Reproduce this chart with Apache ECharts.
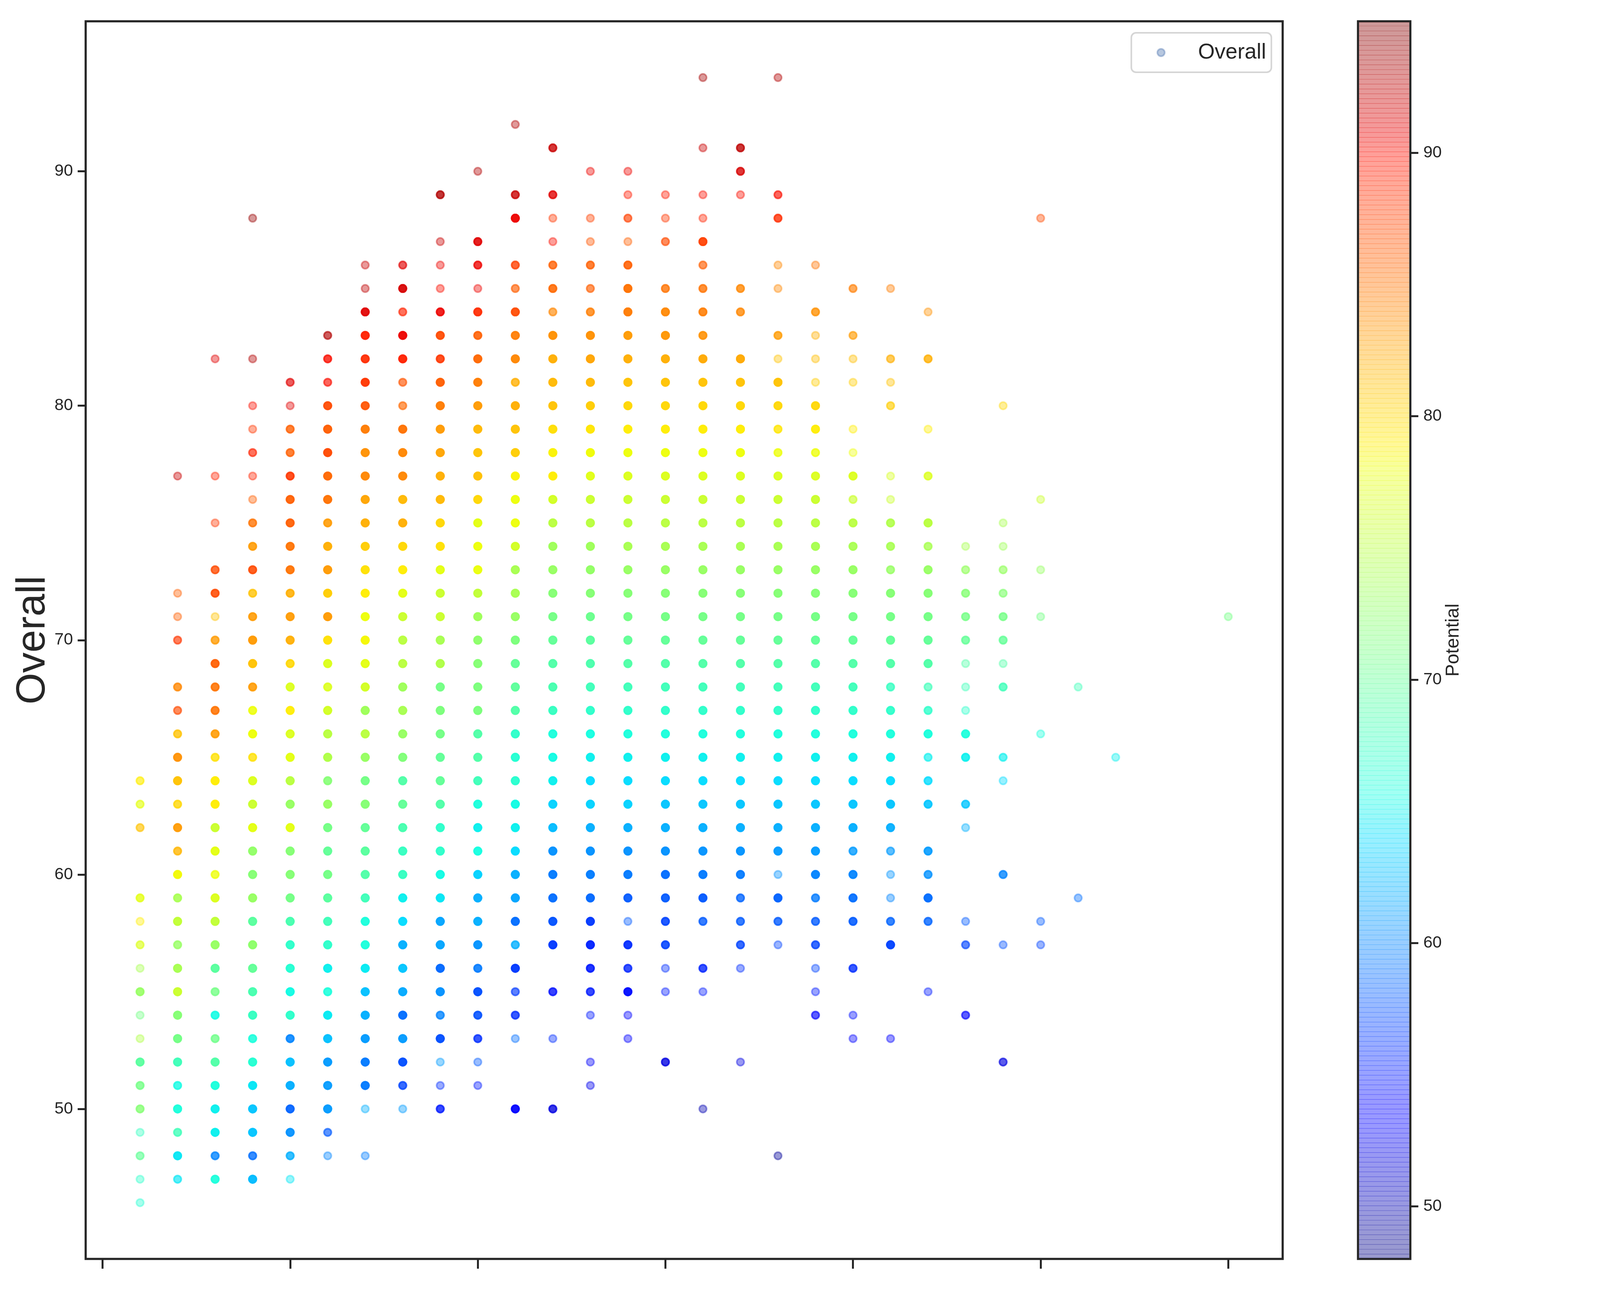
<!DOCTYPE html>
<html><head><meta charset="utf-8">
<style>html,body{margin:0;padding:0;background:#fff;overflow:hidden;width:100%;height:100%}#c{position:absolute;left:0;top:0;width:100vw;height:100vh}</style>
<script src="https://cdn.jsdelivr.net/npm/echarts@6/dist/echarts.min.js"></script>
</head><body><div id="c"></div>
<script>
const age16=[[64,79,2],[63,77.5,2],[62,81,2],[59,77.5,3],[58,79,1],[57,77,2],[56,74,1],[55,73,4],[54,71,1],[53,74.5,1],[52,69.5,5],[51,71,3],[50,72,3],[49,67.5,1],[48,70,2],[47,67,1],[46,66.5,1]];
const age17=[[77,92,1],[72,86,1],[71,86,1],[70,88,2],[68,84,3],[67,87,2],[66,81,3],[65,83.5,5],[64,81,6],[63,80,3],[62,83,5],[61,81.7,3],[60,78.3,6],[59,74,4],[58,75.5,6],[57,73,3],[56,74,6],[55,76,6],[54,72,6],[53,71,6],[52,68,6],[51,65.5,3],[50,66,6],[49,68,3],[48,64.5,5],[47,64.5,2]];
const age18=[[82,91,1],[77,89,1],[75,88,1],[73,87,3],[72,87,4],[71,81,1],[70,83,3],[69,86,5],[68,85,4],[67,85,4],[66,83,4],[65,79.5,3],[64,79,6],[63,79,6],[62,76,6],[61,77.5,6],[60,78,3],[59,77,6],[58,75.5,6],[57,73,6],[56,69.5,6],[55,71,3],[54,65.5,4],[53,70.7,3],[52,69,6],[51,66,6],[50,65,6],[49,65,6],[48,60,3],[47,66,5]];
const age19=[[88,94,1],[82,93,1],[80,90,1],[79,88,1],[78,89,2],[77,89,1],[76,86,1],[75,85,3],[74,83,4],[73,87,4],[72,81,3],[71,83,4],[70,83,6],[69,81,6],[68,83,4],[67,78,4],[66,78,6],[65,79.5,3],[64,77,6],[63,76,6],[62,77.5,6],[61,72.7,6],[60,72,6],[59,73,6],[58,69.5,6],[57,72.5,6],[56,70,6],[55,68.5,6],[54,67.5,6],[53,66,4],[52,66.5,6],[51,64.5,6],[50,63,6],[49,63,6],[48,59,3],[47,62.5,6]];
const age20=[[81,91,2],[80,91,1],[79,86,3],[78,86,3],[77,88,4],[76,86,5],[75,86,5],[74,85,5],[73,85,5],[72,82,4],[71,83,5],[70,82,5],[69,80,4],[68,77,5],[67,79,5],[66,77,5],[65,77.5,6],[64,75,6],[63,73,6],[62,77.5,6],[61,72,6],[60,72,6],[59,71,6],[58,68.5,6],[57,67,6],[56,66.5,6],[55,65.5,6],[54,67,6],[53,60,4],[52,62.7,6],[51,62,6],[50,58.5,5],[49,60.5,5],[48,62,3],[47,64.5,1]];
const age21=[[83,93,2],[82,90,3],[81,90,2],[80,87,5],[79,86,6],[78,87,6],[77,85.5,6],[76,85,6],[75,83,4],[74,82,6],[73,83,6],[72,80.5,6],[71,83,6],[70,79.5,6],[69,77,6],[68,77,4],[67,76.5,6],[66,75,6],[65,74.5,6],[64,72,4],[63,73,6],[62,71,6],[61,70,6],[60,71,6],[59,69.5,6],[58,68,6],[57,67,6],[56,65,6],[55,66,4],[54,64.7,6],[53,62.7,6],[52,61,6],[51,61,5],[50,61,6],[49,58,2],[48,60,1]];
const age22=[[86,92,1],[85,92.5,1],[84,91,5],[83,89,6],[82,88.5,5],[81,88,6],[80,86.5,5],[79,84.5,6],[78,83.5,6],[77,84,6],[76,82.5,6],[75,82,6],[74,80.5,6],[73,79.5,6],[72,79,6],[71,78,6],[70,78.5,6],[69,77.5,6],[68,76.5,6],[67,73.5,6],[66,75,6],[65,73,6],[64,71,6],[63,72,6],[62,70,6],[61,69.5,6],[60,69,6],[59,68,6],[58,66,6],[57,66,6],[56,64.7,6],[55,62.7,6],[54,62,6],[53,61,6],[52,59.5,6],[51,59.5,6],[50,62,1],[48,59.7,1]];
const age23=[[86,91,2],[85,91.5,5],[84,89,2],[83,90.5,6],[82,89,6],[81,86.5,2],[80,85.5,2],[79,85,6],[78,84,6],[77,84,6],[76,81.5,6],[75,82,6],[74,80,6],[73,79,6],[72,77.5,6],[71,76,6],[70,75,6],[69,75,6],[68,73.5,6],[67,74,6],[66,73,6],[65,71.7,6],[64,69,6],[63,70,6],[62,68.5,6],[61,67.5,6],[60,67.5,6],[59,65,6],[58,64,6],[57,62,6],[56,63,6],[55,61.7,6],[54,59,6],[53,61,6],[52,57.5,6],[51,57,3],[50,61,1]];
const age24=[[89,93,3],[87,92,1],[86,90.5,1],[85,90,1],[84,90.5,4],[83,87,5],[82,88,4],[81,86,6],[80,84.5,6],[79,83,6],[78,82.5,6],[77,82,6],[76,81.5,6],[75,80,6],[74,79.5,6],[73,77.5,6],[72,76,6],[71,76,6],[70,74,6],[69,74.5,6],[68,71,6],[67,71.5,6],[66,71,6],[65,70,6],[64,70,6],[63,69,6],[62,67,6],[61,67,6],[60,65.5,6],[59,64.5,6],[58,61.5,6],[57,61.5,6],[56,58.7,6],[55,60.5,6],[54,60,3],[53,57.5,6],[52,61,1],[51,56,1],[50,55,3]];
const age25=[[90,93,1],[87,91,4],[86,90.5,3],[85,90.5,1],[84,88.5,5],[83,86,4],[82,85.5,6],[81,84.5,6],[80,83,6],[79,81.5,6],[78,81,6],[77,81.2,6],[76,80,6],[75,77.5,6],[74,78,6],[73,77.8,6],[72,75.5,6],[71,73.5,6],[70,72.5,6],[69,72,6],[68,71.5,6],[67,71.5,6],[66,69,6],[65,69,6],[64,68,6],[63,66,6],[62,65,6],[61,65.7,6],[60,63.5,6],[59,62,6],[58,62,6],[57,60.7,6],[56,59.5,4],[55,57.5,6],[54,57.5,4],[53,56,3],[52,58,1],[51,55,1]];
const age26=[[92,93,1],[89,92,3],[88,90.5,6],[86,87.5,3],[85,86,2],[84,87,5],[83,84.5,5],[82,84,6],[81,82,3],[80,82,6],[79,81,6],[78,80.5,6],[77,78.7,6],[76,78,6],[75,78,6],[74,76.5,6],[73,74,6],[72,74,6],[71,73,6],[70,71.5,6],[69,70,6],[68,69.7,6],[67,69,6],[66,67,6],[65,66.5,6],[64,66.7,6],[63,65.5,6],[62,65,6],[61,64,6],[60,62,6],[59,61.5,6],[58,59,6],[57,62,3],[56,56.5,6],[55,56.5,2],[54,56,3],[53,59,1],[50,53.5,5]];
const age27=[[91,92,3],[89,91,3],[88,88,1],[87,90,1],[86,86,3],[85,85.5,4],[84,84,2],[83,83.5,6],[82,82,6],[81,81.5,6],[80,81,6],[79,79.7,6],[78,78.7,6],[77,79,6],[76,76.5,6],[75,75,6],[74,73.5,6],[73,73,6],[72,72,6],[71,71,6],[70,70,6],[69,69,6],[68,68.5,6],[67,67.5,6],[66,66,6],[65,65.5,6],[64,65,6],[63,63.5,6],[62,62.5,6],[61,60.5,6],[60,59.5,6],[59,59,6],[58,57.7,6],[57,56.5,6],[55,54.5,3],[53,56,1],[50,52,3]];
const age28=[[90,90.5,1],[88,87.5,1],[87,86.5,1],[86,86,3],[85,86,2],[84,84.5,3],[83,83.5,6],[82,82.5,6],[81,81.5,6],[80,80.5,6],[79,79.3,6],[78,78.2,6],[77,77.3,6],[76,76,6],[75,75,6],[74,73.5,6],[73,72.8,6],[72,72,6],[71,70.5,6],[70,69.5,6],[69,68.7,6],[68,68,6],[67,67,6],[66,65.7,6],[65,65,6],[64,64,6],[63,63.5,6],[62,62,6],[61,60.5,6],[60,59.7,6],[59,58.7,6],[58,56.5,6],[57,55.5,6],[56,55,4],[55,55,3],[54,55,1],[52,53,1],[51,52.5,1]];
const age29=[[90,90.5,1],[89,89.5,1],[88,87.5,2],[87,86,1],[86,86,4],[85,85,6],[84,84.5,6],[83,83,6],[82,82,6],[81,81,6],[80,80,6],[79,79,6],[78,78,6],[77,77,6],[76,76,6],[75,75,6],[74,74,6],[73,73,6],[72,72,6],[71,71,6],[70,70,6],[69,69,6],[68,68,6],[67,67,6],[66,66,6],[65,65,6],[64,64,6],[63,63.5,6],[62,62,6],[61,60.5,6],[60,59.5,6],[59,58,5],[58,58,1],[57,56,5],[56,55.5,3],[55,54.5,6],[54,54,1],[53,53.5,1]];
const age30=[[89,89.5,1],[88,88,1],[87,87,2],[85,85,3],[84,84,5],[83,83.3,6],[82,82,6],[81,81,6],[80,80,6],[79,79,6],[78,78,6],[77,77,6],[76,76,6],[75,75,6],[74,74,6],[73,73,6],[72,72,6],[71,71,6],[70,70,6],[69,69,6],[68,68,6],[67,67,6],[66,66,6],[65,65,6],[64,64,6],[63,63,6],[62,62,6],[61,60.5,6],[60,59,6],[59,58,5],[58,57,4],[57,57,4],[56,56,1],[55,55,1],[52,52,3]];
const age31=[[94,93.5,1],[91,92,1],[89,90,1],[88,89,1],[87,87.5,5],[86,86,2],[85,85,3],[84,84.5,4],[83,83.5,4],[82,82.3,6],[81,81,6],[80,80,6],[79,79,6],[78,78,6],[77,77,6],[76,76,6],[75,75,6],[74,74,6],[73,73,6],[72,72,6],[71,71,6],[70,70,6],[69,69,6],[68,68,6],[67,67,6],[66,66,6],[65,65,6],[64,64,6],[63,63,6],[62,62,6],[61,60.7,6],[60,59.5,6],[59,58,6],[58,58,3],[56,55.5,3],[55,55,1],[50,50,1]];
const age32=[[91,92.5,3],[90,91.5,3],[89,90,1],[85,84,3],[84,84,3],[82,82.3,6],[81,81,6],[80,80,6],[79,79,6],[78,78,6],[77,77,6],[76,76,6],[75,75,6],[74,74,6],[73,73,6],[72,72,6],[71,71,6],[70,70,6],[69,69,6],[68,68,6],[67,67,6],[66,66,6],[65,65,6],[64,64,6],[63,63,6],[62,62,6],[61,60.7,6],[60,59.5,5],[59,58.5,3],[58,58,3],[57,57,3],[56,56,1],[52,52,1]];
const age33=[[94,93,1],[89,90,2],[88,88.5,3],[86,84,1],[85,84,1],[83,83,3],[82,81,1],[81,81,6],[80,80,5],[79,79.3,3],[78,78,3],[77,77,5],[76,76,6],[75,75,6],[74,74,6],[73,73,6],[72,72,6],[71,71,6],[70,70,6],[69,69,6],[68,68,6],[67,67,6],[66,66,6],[65,65,6],[64,64,6],[63,63,6],[62,62,6],[61,61,6],[60,60.5,1],[59,58.5,6],[58,58,3],[57,57,1],[48,49,1]];
const age34=[[86,85,1],[84,83.5,3],[83,82,1],[82,81.3,1],[81,80.5,1],[80,80,5],[79,79,5],[78,78,3],[77,77,5],[76,76,6],[75,75,6],[74,74,6],[73,73,6],[72,72,6],[71,71,6],[70,70,6],[69,69,6],[68,68,6],[67,67,6],[66,66,6],[65,65,6],[64,64,6],[63,63,6],[62,62,6],[61,61,6],[60,60,6],[59,59.5,3],[58,58,3],[57,57,3],[56,57,1],[55,55,1],[54,54,2]];
const age35=[[85,84.5,2],[83,83,2],[82,81.3,1],[81,80.5,1],[79,79,1],[78,78,1],[77,77,5],[76,76,2],[75,75,5],[74,74,5],[73,73,6],[72,72,6],[71,71,6],[70,70,6],[69,69,6],[68,68,6],[67,67,6],[66,66,6],[65,65,6],[64,64,6],[63,63,6],[62,62,6],[61,61,3],[60,60,5],[59,59,5],[58,58,4],[56,56,3],[54,54.5,1],[53,54,1]];
const age36=[[85,84.5,1],[82,82,2],[81,81,1],[80,80.5,2],[77,76.7,1],[76,76,1],[75,74.5,4],[74,74,4],[73,73,3],[72,72,6],[71,71,6],[70,70,6],[69,69,6],[68,67.5,3],[67,67,5],[66,66,6],[65,65,6],[64,64,6],[63,63,6],[62,62,5],[61,61,2],[60,60.7,1],[59,60,1],[58,58.5,3],[57,57,6],[53,53.5,1]];
const age37=[[84,83.5,1],[82,82,3],[79,79,1],[77,77,3],[75,75,6],[74,74,3],[73,73,5],[72,72,6],[71,71,6],[70,70,6],[69,69,6],[68,68,2],[67,67,3],[66,66,6],[65,65,2],[64,64,3],[63,63,4],[61,61,4],[60,60.5,3],[59,59,6],[58,58.5,3],[55,55,1]];
const age38=[[74,74,1],[73,73,2],[72,72,3],[71,71,3],[70,70,3],[69,69,1],[68,68,1],[67,67,1],[66,66,5],[65,65,4],[63,63,3],[62,62,1],[58,58,1],[57,57,2],[54,54,2]];
const age39=[[80,80,1],[75,74,1],[74,73.5,1],[73,73,2],[72,72,2],[71,71,3],[70,70,3],[69,69,1],[68,68,3],[65,65,2],[64,64,1],[60,60,3],[57,57.5,1],[52,52,2]];
const age40=[[88,87,1],[76,76,1],[73,73,1],[71,71,1],[66,66,1],[58,58,1],[57,57,1]];
const age41=[[68,68,1],[59,59,1]];
const age42=[[65,65,1]];
const age45=[[71,71,1]];

const columns=[[16,age16],[17,age17],[18,age18],[19,age19],[20,age20],[21,age21],[22,age22],[23,age23],[24,age24],[25,age25],[26,age26],[27,age27],[28,age28],[29,age29],[30,age30],[31,age31],[32,age32],[33,age33],[34,age34],[35,age35],[36,age36],[37,age37],[38,age38],[39,age39],[40,age40],[41,age41],[42,age42],[45,age45]];

const ageTicks=[15,20,25,30,35,40,45];
const overallTicks=[50,60,70,80,90];
const potentialTicks=[50,60,70,80,90];
const potentialMin=48, potentialMax=95, bands=256;

// The sandbox browser reports a 4096x3300 viewport although 4800x3300 was requested, and
// a wider canvas gets cut off. The layout is therefore expressed in reference pixels and
// mapped onto whatever viewport is really there, so the whole chart stays visible.
const W=window.innerWidth, H=window.innerHeight, sx=W/4800, sy=H/3300;
const X=v=>v*sx, Y=v=>v*sy;

const INK='#262626', FONT='"Liberation Sans", Arial, sans-serif', ALPHA=0.4;
function seg(t,pts){for(let i=1;i<pts.length;i++){if(t<=pts[i][0]){const a=pts[i-1],b=pts[i];return a[1]+(b[1]-a[1])*(t-a[0])/(b[0]-a[0]);}}return pts[pts.length-1][1];}
function jet(t){
  const r=seg(t,[[0,0],[.35,0],[.66,1],[.89,1],[1,.5]]);
  const g=seg(t,[[0,0],[.125,0],[.375,1],[.64,1],[.91,0],[1,0]]);
  const b=seg(t,[[0,.5],[.11,1],[.34,1],[.65,0],[1,0]]);
  return [r,g,b].map(v=>Math.round(v*255));
}
function rgba(p){const c=jet((p-potentialMin)/(potentialMax-potentialMin));return `rgba(${c[0]},${c[1]},${c[2]},${ALPHA})`;}

const scatterData=[];
columns.forEach(([age,rows])=>rows.forEach(([o,p,n])=>{
  const col=rgba(p);
  for(let i=0;i<n;i++) scatterData.push({value:[age,o,p],itemStyle:{color:col,borderColor:col}});
}));
const bandData=[];
for(let i=0;i<bands;i++) bandData.push([i]);

const chart=echarts.init(document.getElementById('c'),null,{renderer:'canvas',width:W,height:H,devicePixelRatio:1});
const tickStyle={width:5,color:INK};
const noBounds={outerBoundsMode:'none',containLabel:false};
const tickFont=46*Math.sqrt(sx), legendFont=62.5*Math.pow(sx,0.8);
const legendPadLeft=X(3482.5-3394)-25+14, legendTextPad=X(3597-3482.5)-33;
const legendTextWidth=legendFont*3.167;
const legendPadRight=Math.max(8,X(3817-3597)-legendTextWidth);
chart.setOption({
  animation:false,
  backgroundColor:'#ffffff',
  textStyle:{fontFamily:FONT,color:INK},
  grid:[
    {left:X(257),top:Y(54.5),width:X(3591),height:Y(3168.5),show:true,borderColor:INK,borderWidth:5.5,backgroundColor:'transparent',...noBounds},
    {left:X(4074),top:Y(54.5),width:X(157),height:Y(3168.5),show:true,borderColor:INK,borderWidth:5.5,backgroundColor:'transparent',...noBounds}
  ],
  xAxis:[
    {type:'value',gridIndex:0,min:14.55,max:46.45,axisLine:{show:false,onZero:false},splitLine:{show:false},
     axisLabel:{show:false},axisTick:{show:true,length:Y(25),lineStyle:tickStyle,customValues:ageTicks}},
    {type:'value',gridIndex:1,min:0,max:1,show:false}
  ],
  yAxis:[
    {type:'value',gridIndex:0,min:43.6,max:96.4,axisLine:{show:false,onZero:false},splitLine:{show:false},
     axisTick:{show:true,length:X(24),lineStyle:tickStyle,customValues:overallTicks},
     axisLabel:{fontSize:tickFont,color:INK,fontFamily:FONT,margin:X(38),customValues:overallTicks},
     name:'Overall',nameLocation:'middle',nameRotate:90,nameGap:X(157)-52,nameMoveOverlap:false,nameTextStyle:{fontSize:104*sy,color:INK,fontFamily:FONT}},
    {type:'value',gridIndex:1,position:'right',min:potentialMin,max:potentialMax,axisLine:{show:false,onZero:false},splitLine:{show:false},
     axisTick:{show:true,length:X(24),lineStyle:tickStyle,customValues:potentialTicks},
     axisLabel:{fontSize:tickFont,color:INK,fontFamily:FONT,margin:X(39),customValues:potentialTicks},
     name:'Potential',nameLocation:'middle',nameRotate:90,nameGap:X(129)-24,nameMoveOverlap:false,nameTextStyle:{fontSize:48*sy,color:INK,fontFamily:FONT}}
  ],
  legend:{
    show:true,data:['Overall'],left:X(3394),top:Y(84),orient:'vertical',
    backgroundColor:'rgba(255,255,255,0.8)',borderColor:'#d5d5d5',borderWidth:4,borderRadius:12,
    padding:[Y(23),legendPadRight,Y(23),legendPadLeft],
    icon:'circle',itemWidth:50,itemHeight:19,
    itemStyle:{color:'rgba(76,114,176,0.4)',borderColor:'rgba(76,114,176,0.4)',borderWidth:4},
    textStyle:{fontSize:legendFont,color:INK,fontFamily:FONT,padding:[0,0,0,legendTextPad]}
  },
  series:[
    {name:'Overall',type:'scatter',xAxisIndex:0,yAxisIndex:0,symbol:'circle',symbolSize:19,large:false,progressive:0,silent:true,
     itemStyle:{color:'rgba(76,114,176,0.4)',borderColor:'rgba(76,114,176,0.4)',borderWidth:4,opacity:1},
     emphasis:{disabled:true},data:scatterData},
    {name:'Potential scale',type:'custom',xAxisIndex:1,yAxisIndex:1,silent:true,clip:false,
     encode:{y:0},data:bandData,
     renderItem:function(params,api){
       const i=api.value(0), step=(potentialMax-potentialMin)/bands;
       const v0=potentialMin+i*step, v1=v0+step;
       const a=api.coord([0,v0]), b=api.coord([1,v1]);
       const top=i===bands-1?b[1]+2.75:b[1], bottom=a[1]-(i===0?2.75:0);
       return {type:'rect',shape:{x:a[0]+2.75,y:top-0.6,width:b[0]-a[0]-5.5,height:bottom-top+(i===bands-1?0.6:1.2)},
         style:{fill:rgba(v0+step/2)}};
     }}
  ]
});
</script></body></html>
